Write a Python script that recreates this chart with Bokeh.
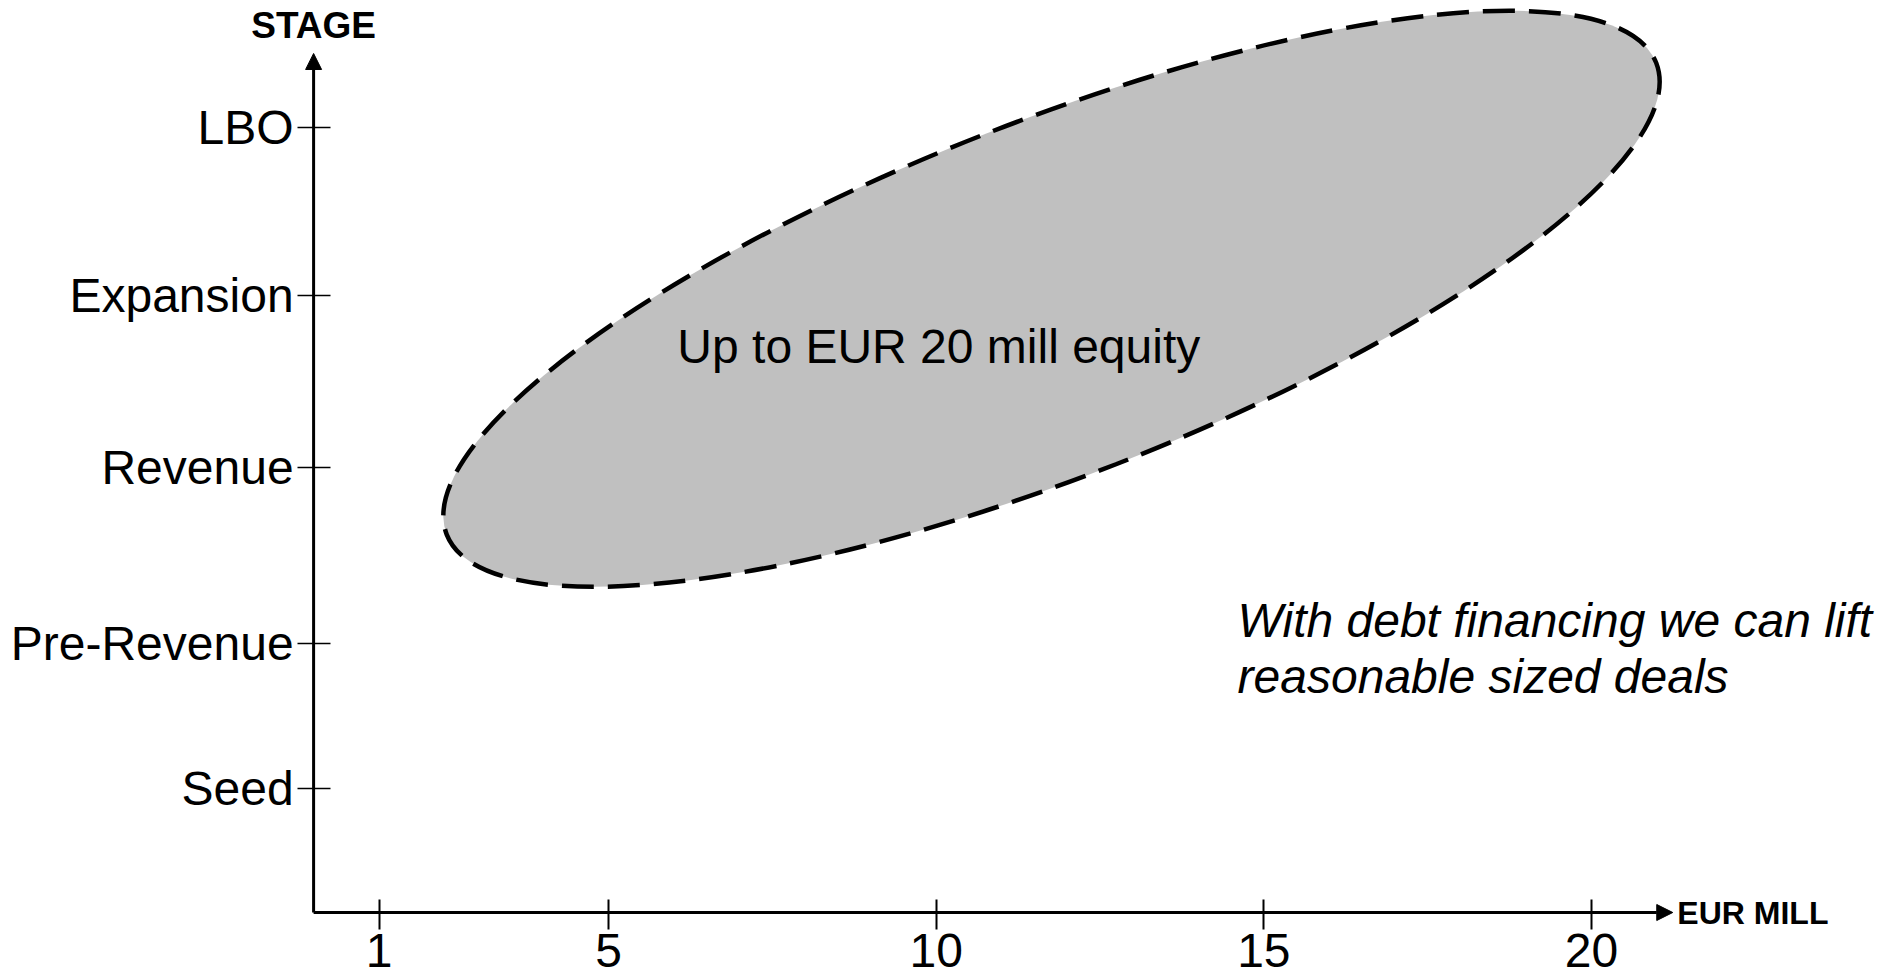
import math
from bokeh.plotting import figure
from bokeh.models import ColumnDataSource, LinearAxis, FixedTicker, Arrow, NormalHead, Range1d
from bokeh.core.properties import value
from bokeh.embed import file_html
from bokeh.resources import INLINE

# ---------------- data ----------------
stages = ["Seed", "Pre-Revenue", "Revenue", "Expansion", "LBO"]
stage_pos = [0.73, 1.58, 2.62, 3.63, 4.62]

eur_tick_labels = ["1", "5", "10", "15", "20"]
eur_tick_pos = [1.5, 5, 10, 15, 20]

# focus area (EUR mill x stage)
focus_center_eur = [11.76]
focus_center_stage = [3.61]
focus_width_eur = [19.81]
focus_height_stage = [2.09]
focus_angle_deg = [21.3]

focus_label = ["Up to EUR 20 mill equity"]
note_lines = ["With debt financing we can lift", "reasonable sized deals"]
y_axis_title = ["STAGE"]
x_axis_title = ["EUR MILL"]

# ---------------- figure ----------------
FONT = "Liberation Sans"
PX_X, PX_Y = 65.533, 170.0
W, H = 1886, 977
x0 = 5 - 608 / PX_X
x1 = x0 + W / PX_X
y1 = 912 / PX_Y
y0 = y1 - H / PX_Y
origin_x, origin_y = 0.5, 0.0

p = figure(width=W, height=H, output_backend="svg", toolbar_location=None,
           x_axis_location=None, y_axis_location=None,
           x_range=Range1d(x0, x1), y_range=Range1d(y0, y1),
           min_border=0, outline_line_color=None, background_fill_color="white",
           border_fill_color="white")
p.grid.grid_line_color = None
p.grid.visible = False

# focus ellipse
src = ColumnDataSource(dict(x=focus_center_eur, y=focus_center_stage, w=focus_width_eur,
                            h=focus_height_stage, a=[math.radians(d) for d in focus_angle_deg]))
p.ellipse(x="x", y="y", width="w", height="h", angle="a", source=src,
          fill_color="#C0C0C0", line_color="black", line_width=4.5, line_dash="32 14")

# axes with fixed locations
yaxis = LinearAxis(fixed_location=origin_x, ticker=FixedTicker(ticks=stage_pos),
                   major_label_overrides={v: s for v, s in zip(stage_pos, stages)},
                   axis_line_color=None, major_tick_in=17, major_tick_out=16,
                   major_tick_line_width=1.5, major_tick_line_color="black",
                   minor_tick_line_color=None, major_label_standoff=4,
                   major_label_text_font=FONT, major_label_text_font_size="48px",
                   major_label_text_color="black")
p.add_layout(yaxis, "left")

xaxis = LinearAxis(fixed_location=origin_y, ticker=FixedTicker(ticks=eur_tick_pos),
                   major_label_overrides={v: s for v, s in zip(eur_tick_pos, eur_tick_labels)},
                   axis_line_color=None, major_tick_in=13, major_tick_out=17,
                   major_tick_line_width=2, major_tick_line_color="black",
                   minor_tick_line_color=None, major_label_standoff=4,
                   major_label_text_font=FONT, major_label_text_font_size="48px",
                   major_label_text_color="black")
p.add_layout(xaxis, "below")

# axis lines with arrows
p.add_layout(Arrow(end=NormalHead(size=16, fill_color="black", line_color="black", line_width=1),
                   x_start=origin_x, y_start=origin_y, x_end=origin_x, y_end=5.053,
                   line_width=3, line_color="black"))
p.add_layout(Arrow(end=NormalHead(size=16, fill_color="black", line_color="black", line_width=1),
                   x_start=origin_x, y_start=origin_y, x_end=21.24, y_end=origin_y,
                   line_width=3, line_color="black"))

# axis titles
p.text(x=[origin_x], y=[5.215], text=y_axis_title, text_font=value(FONT), text_font_size="37px",
       text_font_style="bold", text_align="center", text_baseline="middle", text_color="black")
p.text(x=[21.31], y=[origin_y], text=x_axis_title, text_font=value(FONT), text_font_size="32px",
       text_font_style="bold", text_align="left", text_baseline="middle", text_color="black")

# labels
p.text(x=[10.04], y=[3.33], text=focus_label, text_font=value(FONT), text_font_size="48px",
       text_align="center", text_baseline="middle", text_color="black")
p.text(x=[14.6, 14.6], y=[1.72, 1.386], text=note_lines, text_font=value(FONT),
       text_font_size="48px", text_font_style="italic", text_align="left",
       text_baseline="middle", text_color="black")

open("out.html", "w").write(file_html(p, INLINE))
